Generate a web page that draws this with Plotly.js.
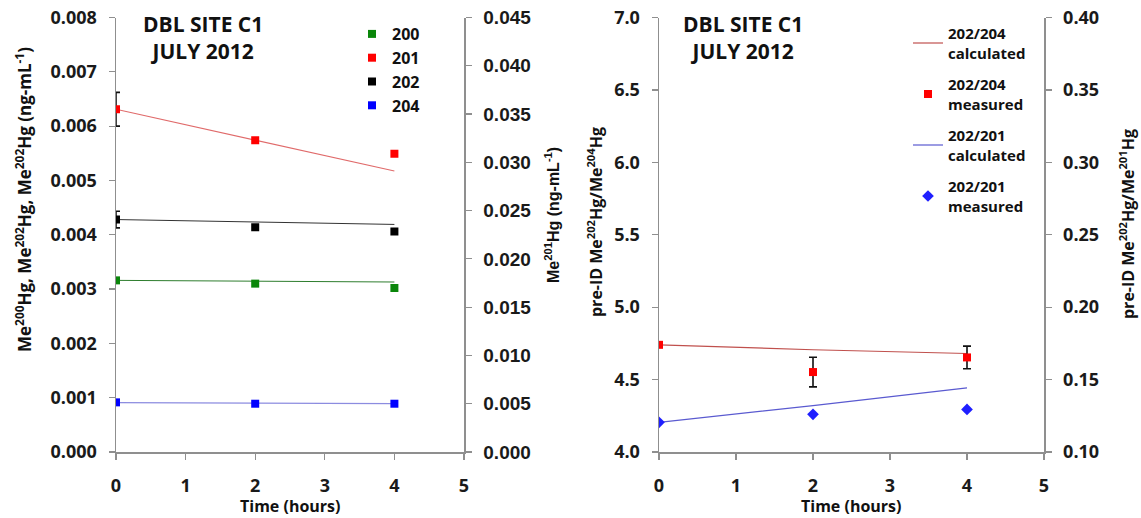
<!DOCTYPE html>
<html>
<head>
<meta charset="utf-8">
<script src="https://cdn.plot.ly/plotly-3.0.1.min.js"></script>
<style>html,body{margin:0;padding:0;background:#fff;}#chart{width:1141px;height:518px;}</style>
</head>
<body>
<div id="chart"></div>
<script>
// ---- data ----
var time = [0, 2, 4];
// left panel: concentrations (ng/mL)
var me200 = [0.00316, 0.00310, 0.00302];
var me201 = [0.0355, 0.0323, 0.0309];     // right axis
var me202 = [0.00428, 0.00414, 0.00406];
var me204 = [0.000914, 0.000889, 0.000889];
var me201Err = [0.00175, NaN, NaN];
var me202Err = [0.000153, NaN, NaN];
var fit200 = [0.00316, 0.003145, 0.00313];
var fit201 = [0.0355, 0.0323, 0.0291];
var fit202 = [0.00428, 0.004235, 0.00419];
var fit204 = [0.00091, 0.0009, 0.00089];
// right panel: ratios
var r204Meas = [4.74, 4.552, 4.653];
var r204Err = [NaN, 0.102, 0.078];
var r204Calc = [4.74, 4.706, 4.68];
var r201Meas = [0.1205, 0.126, 0.1294];   // right axis
var r201Calc = [0.1205, 0.132, 0.1443];
var legendLeft = ['200', '201', '202', '204'];
var legendRight = ['202/204<br>calculated', '202/204<br>measured', '202/201<br>calculated', '202/201<br>measured'];

var W = 1141, H = 518;
function px(x){ return x / W; }
function py(y){ return 1 - y / H; }

var F = 'Open Sans, Lato, sans-serif';
var errStyle = {type: 'data', visible: true, color: '#111', thickness: 1.6, width: 4};

var traces = [
  // left panel lines
  {x: time, y: fit200, mode: 'lines', line: {color: '#2e7d2e', width: 1}, showlegend: false, xaxis: 'x', yaxis: 'y', hoverinfo: 'skip'},
  {x: time, y: fit201, mode: 'lines', line: {color: '#e06a6a', width: 1.2}, showlegend: false, xaxis: 'x', yaxis: 'y2', hoverinfo: 'skip'},
  {x: time, y: fit202, mode: 'lines', line: {color: '#333333', width: 1}, showlegend: false, xaxis: 'x', yaxis: 'y', hoverinfo: 'skip'},
  {x: time, y: fit204, mode: 'lines', line: {color: '#8c8ce0', width: 1.2}, showlegend: false, xaxis: 'x', yaxis: 'y', hoverinfo: 'skip'},
  // left panel markers
  {x: time, y: me200, name: legendLeft[0], mode: 'markers', marker: {symbol: 'square', size: 8, color: '#0a860a'}, xaxis: 'x', yaxis: 'y', legend: 'legend'},
  {x: time, y: me201, name: legendLeft[1], mode: 'markers', marker: {symbol: 'square', size: 8, color: '#ff0000'}, error_y: Object.assign({array: me201Err}, errStyle), xaxis: 'x', yaxis: 'y2', legend: 'legend'},
  {x: time, y: me202, name: legendLeft[2], mode: 'markers', marker: {symbol: 'square', size: 8, color: '#000000'}, error_y: Object.assign({array: me202Err}, errStyle), xaxis: 'x', yaxis: 'y', legend: 'legend'},
  {x: time, y: me204, name: legendLeft[3], mode: 'markers', marker: {symbol: 'square', size: 8, color: '#0000ff'}, xaxis: 'x', yaxis: 'y', legend: 'legend'},
  // right panel
  {x: time, y: r204Calc, name: legendRight[0], mode: 'lines', line: {color: '#c0504d', width: 1.2}, xaxis: 'x2', yaxis: 'y3', legend: 'legend2', legendgroup: 'a'},
  {x: time, y: r204Meas, name: legendRight[1], mode: 'markers', marker: {symbol: 'square', size: 8, color: '#ff0000'}, error_y: Object.assign({array: r204Err}, errStyle), xaxis: 'x2', yaxis: 'y3', legend: 'legend2', legendgroup: 'b'},
  {x: time, y: r201Calc, name: legendRight[2], mode: 'lines', line: {color: '#5a5ad0', width: 1.2}, xaxis: 'x2', yaxis: 'y4', legend: 'legend2', legendgroup: 'c'},
  {x: time, y: r201Meas, name: legendRight[3], mode: 'markers', marker: {symbol: 'diamond', size: 9, color: '#1f1fff'}, xaxis: 'x2', yaxis: 'y4', legend: 'legend2', legendgroup: 'd'}
];

var axCommon = {
  showgrid: false, zeroline: false, showline: true, linecolor: '#8f8f8f', linewidth: 1.5,
  ticks: 'outside', ticklen: 6, tickwidth: 1.2, tickcolor: '#8f8f8f',
  tickfont: {family: F, size: 18, color: '#1a1a1a', weight: 'bold'}
};
function ax(extra){ return Object.assign({}, axCommon, extra); }

var yDom = [py(452), py(17.5)];

var layout = {
  width: W, height: H,
  margin: {l: 0, r: 0, t: 0, b: 0},
  paper_bgcolor: '#ffffff', plot_bgcolor: '#ffffff',
  showlegend: true,
  xaxis: ax({domain: [px(116), px(464)], range: [0, 5], dtick: 1, anchor: 'y', ticklabelstandoff: 11}),
  yaxis: ax({domain: yDom, range: [0, 0.008], dtick: 0.001, tickformat: '.3f', anchor: 'x', ticklabelstandoff: 8}),
  yaxis2: ax({range: [0, 0.045], dtick: 0.005, tickformat: '.3f', overlaying: 'y', side: 'right', anchor: 'x', ticklabelstandoff: 8,
    tickfont: {family: 'Liberation Sans, Arial, sans-serif', size: 19, color: '#1a1a1a', weight: 'bold'}}),
  xaxis2: ax({domain: [px(659), px(1044)], range: [0, 5], dtick: 1, anchor: 'y3', ticklabelstandoff: 11}),
  yaxis3: ax({domain: yDom, range: [4, 7], dtick: 0.5, tickformat: '.1f', anchor: 'x2', ticklabelstandoff: 8}),
  yaxis4: ax({range: [0.1, 0.4], dtick: 0.05, tickformat: '.2f', overlaying: 'y3', side: 'right', anchor: 'x2', ticklabelstandoff: 8}),
  legend: {x: px(352), y: py(17), xanchor: 'left', yanchor: 'top', bgcolor: 'rgba(0,0,0,0)',
    font: {family: F, size: 16, color: '#111', weight: 'bold'}, itemwidth: 30, tracegroupgap: 0},
  legend2: {x: px(908), y: py(17), xanchor: 'left', yanchor: 'top', bgcolor: 'rgba(0,0,0,0)',
    font: {family: F, size: 15, color: '#111', weight: 'bold'}, itemwidth: 30, tracegroupgap: 9},
  annotations: [
    {text: 'DBL SITE C1<br>JULY 2012', x: px(203), y: py(38), xref: 'paper', yref: 'paper', showarrow: false, xanchor: 'center', yanchor: 'middle',
      font: {family: F, size: 21, color: '#111', weight: 'bold'}},
    {text: 'DBL SITE C1<br>JULY 2012', x: px(743), y: py(38), xref: 'paper', yref: 'paper', showarrow: false, xanchor: 'center', yanchor: 'middle',
      font: {family: F, size: 21, color: '#111', weight: 'bold'}},
    {text: 'Time (hours)', x: px(290), y: py(506), xref: 'paper', yref: 'paper', showarrow: false, xanchor: 'center', yanchor: 'middle',
      font: {family: F, size: 16, color: '#111', weight: 'bold'}},
    {text: 'Time (hours)', x: px(851), y: py(506), xref: 'paper', yref: 'paper', showarrow: false, xanchor: 'center', yanchor: 'middle',
      font: {family: F, size: 16, color: '#111', weight: 'bold'}},
    {text: 'Me<sup>200</sup>Hg, Me<sup>202</sup>Hg, Me<sup>202</sup>Hg (ng-mL<sup>-1</sup>)', x: px(23), y: py(200), xref: 'paper', yref: 'paper', showarrow: false,
      textangle: -90, xanchor: 'center', yanchor: 'middle', font: {family: F, size: 17, color: '#111', weight: 'bold'}},
    {text: 'Me<sup>201</sup>Hg (ng-mL<sup>-1</sup>)', x: px(552), y: py(215), xref: 'paper', yref: 'paper', showarrow: false,
      textangle: -90, xanchor: 'center', yanchor: 'middle', font: {family: 'Liberation Sans, Arial, sans-serif', size: 16, color: '#111', weight: 'bold'}},
    {text: 'pre-ID Me<sup>202</sup>Hg/Me<sup>204</sup>Hg', x: px(595), y: py(222), xref: 'paper', yref: 'paper', showarrow: false,
      textangle: -90, xanchor: 'center', yanchor: 'middle', font: {family: F, size: 16, color: '#111', weight: 'bold'}},
    {text: 'pre-ID Me<sup>202</sup>Hg/Me<sup>201</sup>Hg', x: px(1127), y: py(224), xref: 'paper', yref: 'paper', showarrow: false,
      textangle: -90, xanchor: 'center', yanchor: 'middle', font: {family: F, size: 16, color: '#111', weight: 'bold'}}
  ]
};

Plotly.newPlot('chart', traces, layout, {staticPlot: true, displayModeBar: false});
</script>
</body>
</html>
